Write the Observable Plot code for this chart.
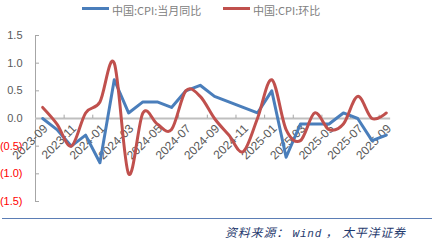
<!DOCTYPE html>
<html>
<head>
<meta charset="utf-8">
<script src="https://cdn.jsdelivr.net/npm/d3@7"></script>
<script src="https://cdn.jsdelivr.net/npm/@observablehq/plot@0.6"></script>
<style>
  body { margin: 0; background: #fff; }
  #wrap { position: relative; width: 432px; height: 240px; overflow: hidden;
          font-family: "Noto Sans CJK SC", "Liberation Sans", sans-serif; }
  .leg { position: absolute; top: 2px; height: 16px; line-height: 16px; font-size: 11px;
         color: #808080; white-space: nowrap; }
  .sw { position: absolute; top: 7px; width: 27px; height: 3px; }
  #chart { position: absolute; left: 0; top: 20px; }
  #rule { position: absolute; left: 2px; right: 0; top: 218px; height: 0; border-top: 1.5px solid #5b7db5; }
  #src { position: absolute; left: 225px; top: 224px; font-size: 12px; line-height: 16px;
         font-style: italic; color: #1f3a6e; white-space: pre; letter-spacing: 0.8px; }
  #src .en { font-family: "Liberation Mono", monospace; font-size: 11px; }
</style>
</head>
<body>
<div id="wrap">
  <span class="sw" style="left:82px;background:#4a7ebb"></span>
  <div class="leg" style="left:112px">中国:CPI:当月同比</div>
  <span class="sw" style="left:223px;background:#c0504d"></span>
  <div class="leg" style="left:253px">中国:CPI:环比</div>
  <div id="chart"></div>
  <div id="rule"></div>
  <div id="src">资料来源： <span class="en">Wind</span> ， 太平洋证券</div>
</div>
<script>
// Monthly China CPI, Sep 2023 – Sep 2025
const months = ["2023-09","2023-10","2023-11","2023-12","2024-01","2024-02","2024-03","2024-04",
  "2024-05","2024-06","2024-07","2024-08","2024-09","2024-10","2024-11","2024-12","2025-01",
  "2025-02","2025-03","2025-04","2025-05","2025-06","2025-07","2025-08","2025-09"];
// year-on-year change, %
const yoy = [0.0,-0.2,-0.5,-0.3,-0.8,0.7,0.1,0.3,0.3,0.2,0.5,0.6,0.4,0.3,0.2,0.1,0.5,-0.7,-0.1,-0.1,-0.1,0.1,0.0,-0.4,-0.3];
// month-on-month change, %
const mom = [0.2,-0.1,-0.5,0.1,0.3,1.0,-1.0,0.1,-0.1,-0.2,0.5,0.4,0.0,-0.3,-0.6,0.0,0.7,-0.2,-0.4,0.1,-0.2,-0.1,0.4,0.0,0.1];
const yTicks = [1.5, 1.0, 0.5, 0.0, -0.5, -1.0, -1.5];
const labelEvery = 2;

const idx = months.map((_, i) => i);
const labelIdx = idx.filter(i => i % labelEvery === 0);
// category boundaries carrying tick marks on the zero line
const boundaries = d3.range(-0.5, months.length, labelEvery);

const fmtY = v => v < 0 ? `(${Math.abs(v).toFixed(1)})` : v.toFixed(1);
const axisGrey = "#a6a6a6";

const chart = Plot.plot({
  width: 432,
  height: 194,
  marginTop: 15,
  marginBottom: 13,
  marginLeft: 35,
  marginRight: 39,
  x: { type: "linear", domain: [-0.5, months.length - 0.5], axis: null },
  y: { domain: [-1.5, 1.5], axis: null },
  style: { fontFamily: "'Liberation Sans', Arial, sans-serif", overflow: "visible" },
  marks: [
    Plot.ruleX([-0.5], { y1: -1.5, y2: 1.5, stroke: axisGrey }),
    Plot.ruleY(yTicks, { y: d => d, x1: -0.5, x2: -0.22, stroke: axisGrey }),
    Plot.ruleY([0], { x1: -0.5, x2: months.length - 0.7, stroke: "#bfbfbf", strokeWidth: 2 }),
    Plot.ruleX(boundaries.slice(1), { x: d => d, y1: 0, y2: 0.06, stroke: axisGrey }),
    Plot.text(yTicks, {
      x: -0.5, y: d => d, text: fmtY, dx: -13, textAnchor: "end", fontSize: 11,
      fill: d => d < 0 ? "#ff0000" : "#595959"
    }),
    Plot.text(labelIdx, {
      x: i => i, y: 0, text: i => months[i], rotate: -45, textAnchor: "end",
      dx: 3, dy: 8, fontSize: 12, fill: "#595959"
    }),
    Plot.line(idx, { x: i => i, y: i => yoy[i], stroke: "#4a7ebb", strokeWidth: 3,
      strokeLinejoin: "round" }),
    Plot.line(idx, { x: i => i, y: i => mom[i], stroke: "#c0504d", strokeWidth: 3,
      curve: "cardinal" })
  ]
});
document.getElementById("chart").appendChild(chart);
</script>
</body>
</html>
